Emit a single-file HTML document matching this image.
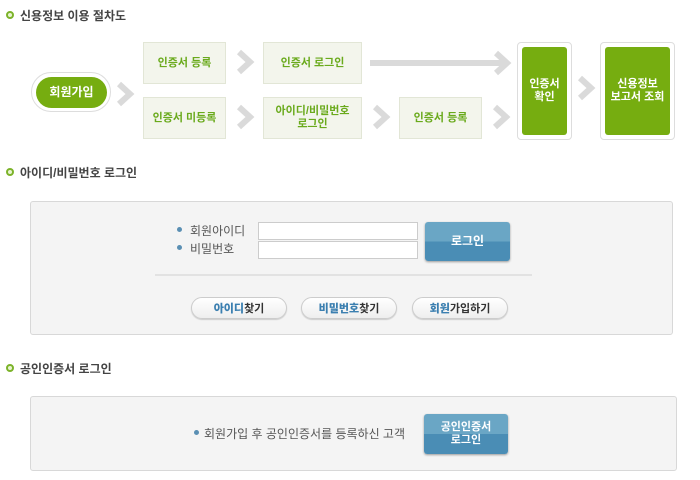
<!DOCTYPE html>
<html><head><meta charset="utf-8"><style>
*{margin:0;padding:0;box-sizing:border-box}
body{width:700px;height:480px;background:#fff;position:relative;font-family:"Liberation Sans","Noto Sans CJK KR",sans-serif;overflow:hidden}
.a{position:absolute}
.t{font-size:12px;font-weight:bold;color:#444}
.dot{width:8px;height:8px;border-radius:50%;border:2px solid #7cb32a;background:#e8f4d0}
.box{background:#f3f5ec;border:1px solid #e2e6d6;color:#6aaa1c;font-size:11px;font-weight:bold;display:flex;align-items:center;justify-content:center;text-align:center;line-height:13px}
.gout{border:1px solid #ddd;background:#fff;border-radius:4px}
.gin{background:#76ad10;color:#fff;font-size:11px;font-weight:bold;display:flex;align-items:center;justify-content:center;text-align:center;line-height:13px;border-radius:3px}
.panel{background:#f4f4f4;border:1px solid #d8d8d8;border-radius:3px}
.lbl{font-size:12px;color:#555}
.bd{width:5px;height:5px;border-radius:50%;background:#5a8fb3}
.inp{background:#fff;border:1px solid #ccc}
.btn{background:linear-gradient(#6aa6c5 0,#6aa6c5 50%,#4a8db5 50%,#4a8db5 100%);color:#fff;font-size:11px;font-weight:bold;display:flex;align-items:center;justify-content:center;text-align:center;border-radius:3px;box-shadow:0 1px 2px #999;line-height:13px}
.pb{border:1px solid #ccc;border-radius:11px;background:linear-gradient(#fff,#eee);font-size:11px;font-weight:bold;display:flex;align-items:center;justify-content:center;box-shadow:0 1px 1px #ccc}
.pb b{color:#3b7fb0}.pb i{font-style:normal;color:#333}
</style></head><body>
<div class="a dot" style="left:6px;top:11px"></div><div class="a t" style="left:20px;top:7px">신용정보 이용 절차도</div>
<svg class="a" style="left:0;top:0" width="700" height="160">
<g fill="none" stroke="#dadada" stroke-width="6" stroke-linejoin="miter">
<polyline points="119,84 130,94 119,104"/>
<polyline points="239,52 250,62 239,72"/>
<polyline points="239,107 250,117 239,127"/>
<polyline points="375,107 386,117 375,127"/>
<polyline points="495,107 506,117 495,127"/>
<polyline points="580,78 591,88 580,98"/>
<polyline points="496,53 507,63 496,73"/>
<line x1="370" y1="63" x2="506" y2="63"/>
</g></svg>
<div class="a" style="left:31px;top:72px;width:80px;height:40px;border:1px solid #ddd;border-radius:20px;background:#fff"></div>
<div class="a gin" style="left:36px;top:77px;width:71px;height:31px;border-radius:16px;font-size:12px">회원가입</div>
<div class="a box" style="left:143px;top:42px;width:83px;height:42px">인증서 등록</div>
<div class="a box" style="left:143px;top:97px;width:83px;height:42px">인증서 미등록</div>
<div class="a box" style="left:263px;top:42px;width:99px;height:42px">인증서 로그인</div>
<div class="a box" style="left:263px;top:97px;width:99px;height:42px">아이디/비밀번호<br>로그인</div>
<div class="a box" style="left:399px;top:97px;width:83px;height:42px">인증서 등록</div>
<div class="a gout" style="left:517px;top:42px;width:55px;height:98px"></div>
<div class="a gin" style="left:522px;top:47px;width:45px;height:88px">인증서<br>확인</div>
<div class="a gout" style="left:600px;top:42px;width:75px;height:98px"></div>
<div class="a gin" style="left:605px;top:47px;width:65px;height:88px">신용정보<br>보고서 조회</div>

<div class="a dot" style="left:6px;top:168px"></div><div class="a t" style="left:20px;top:164px">아이디/비밀번호 로그인</div>
<div class="a panel" style="left:30px;top:201px;width:643px;height:134px"></div>
<div class="a bd" style="left:177px;top:227px"></div><div class="a lbl" style="left:190px;top:222px">회원아이디</div>
<div class="a bd" style="left:177px;top:245px"></div><div class="a lbl" style="left:190px;top:240px">비밀번호</div>
<div class="a inp" style="left:258px;top:222px;width:160px;height:18px"></div>
<div class="a inp" style="left:258px;top:241px;width:160px;height:18px"></div>
<div class="a btn" style="left:425px;top:222px;width:85px;height:39px;font-size:12px">로그인</div>
<div class="a" style="left:155px;top:274px;width:377px;height:2px;background:#e2e2e2"></div>
<div class="a pb" style="left:191px;top:297px;width:96px;height:22px"><b>아이디</b><i>찾기</i></div>
<div class="a pb" style="left:301px;top:297px;width:96px;height:22px"><b>비밀번호</b><i>찾기</i></div>
<div class="a pb" style="left:412px;top:297px;width:96px;height:22px"><b>회원</b><i>가입하기</i></div>

<div class="a dot" style="left:6px;top:364px"></div><div class="a t" style="left:20px;top:360px">공인인증서 로그인</div>
<div class="a panel" style="left:30px;top:396px;width:647px;height:75px"></div>
<div class="a bd" style="left:194px;top:430px"></div><div class="a lbl" style="left:204px;top:425px">회원가입 후 공인인증서를 등록하신 고객</div>
<div class="a btn" style="left:424px;top:414px;width:84px;height:40px">공인인증서<br>로그인</div>
</body></html>
